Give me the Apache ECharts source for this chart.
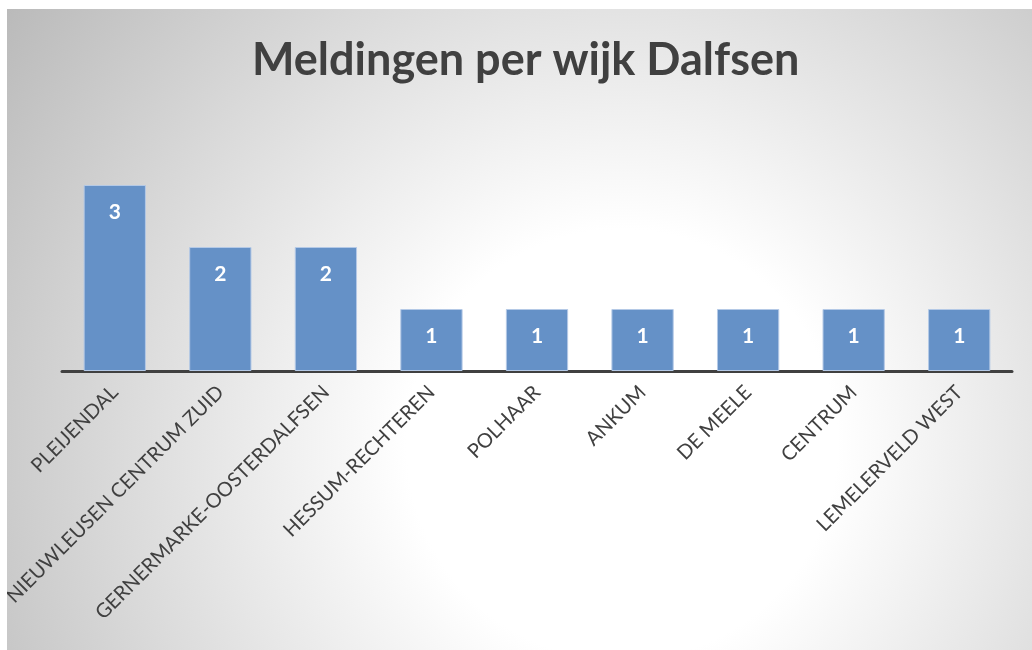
<!DOCTYPE html>
<html>
<head>
<meta charset="utf-8">
<script src="https://cdn.jsdelivr.net/npm/echarts@6/dist/echarts.min.js"></script>
<style>
  html, body { margin: 0; padding: 0; background: #fff; }
  #chart { position: absolute; left: 7px; top: 9px; width: 1025px; height: 641px; }
</style>
</head>
<body>
<div id="chart"></div>
<script>
var wijken = ['PLEIJENDAL', 'NIEUWLEUSEN CENTRUM ZUID', 'GERNERMARKE-OOSTERDALFSEN', 'HESSUM-RECHTEREN',
  'POLHAAR', 'ANKUM', 'DE MEELE', 'CENTRUM', 'LEMELERVELD WEST'];
var meldingen = [3, 2, 2, 1, 1, 1, 1, 1, 1];

var chart = echarts.init(document.getElementById('chart'));
var option = {
    backgroundColor: {
        type: 'radial', x: 0.6, y: 0.68, r: 1.2,
        colorStops: [
            { offset: 0, color: '#ffffff' },
            { offset: 0.28, color: '#ffffff' },
            { offset: 1, color: '#b8b8b8' }
        ]
    },
    title: {
        text: 'Meldingen per wijk Dalfsen',
        left: 240,
        top: 24,
        textStyle: { fontFamily: 'Lato', fontSize: 45, fontWeight: 'bold', color: '#404040' }
    },
    grid: {
        left: 55,
        right: 20,
        top: 176,
        bottom: 279,
        outerBoundsMode: 'none'
    },
    xAxis: [{
        type: 'category',
        data: wijken,
        axisLine: { lineStyle: { color: '#404040', width: 3 } },
        axisTick: { show: false },
        axisLabel: {
            interval: 0,
            rotate: 45,
            margin: 18,
            fontFamily: 'Lato',
            fontSize: 20,
            color: '#404040'
        }
    }],
    yAxis: [{
        type: 'value',
        min: 0,
        max: 3,
        show: false
    }],
    series: [{
        type: 'bar',
        data: meldingen,
        barWidth: '59%',
        itemStyle: { color: '#6591c7', borderColor: '#b4c9e6', borderWidth: 1 },
        label: {
            show: true,
            position: 'insideTop',
            distance: 17,
            fontFamily: 'Lato',
            fontSize: 21,
            fontWeight: 'bold',
            color: '#ffffff'
        }
    }]
};
chart.setOption(option);
</script>
</body>
</html>
